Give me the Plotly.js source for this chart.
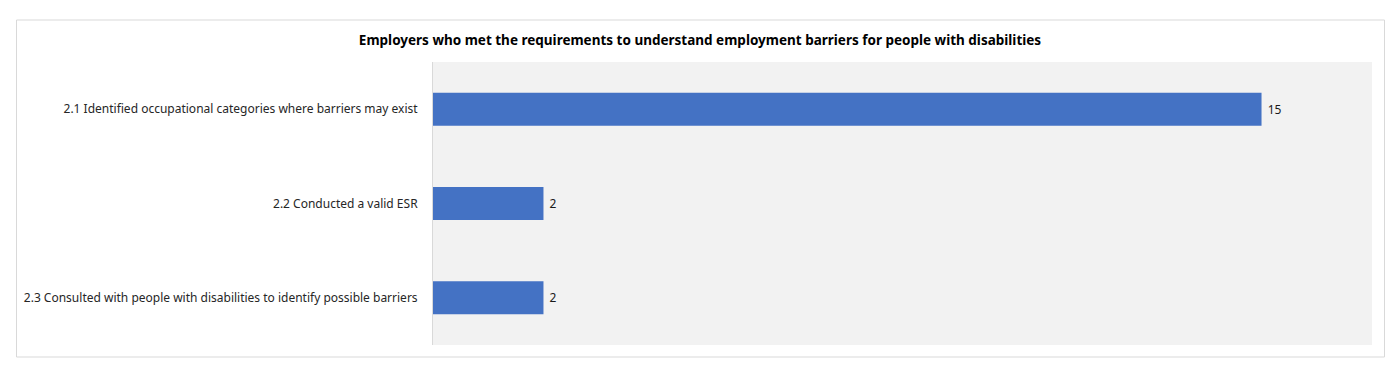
<!DOCTYPE html>
<html>
<head>
<meta charset="utf-8">
<script src="https://cdn.plot.ly/plotly-3.0.1.min.js"></script>
<style>html,body{margin:0;padding:0;background:#fff;}#chart{width:1400px;height:378px;}</style>
</head>
<body>
<div id="chart"></div>
<script>
const categories = [
  "2.1 Identified occupational categories where barriers may exist",
  "2.2 Conducted a valid ESR",
  "2.3 Consulted with people with disabilities to identify possible barriers"
];
const values = [15, 2, 2];
const chartTitle = "Employers who met the requirements to understand employment barriers for people with disabilities";

const W = 1400, H = 378;
const m = {l: 433, r: 28, t: 62, b: 33};
const pw = W - m.l - m.r, ph = H - m.t - m.b;
const px = x => (x - m.l) / pw;
const py = y => (H - m.b - y) / ph;

const trace = {
  type: 'bar',
  orientation: 'h',
  x: values,
  y: categories,
  text: values.map(v => ' ' + v),
  textposition: 'outside',
  cliponaxis: false,
  textfont: {family: 'Noto Sans, sans-serif', size: 12, color: '#1a1a1a'},
  marker: {color: '#4472C4'},
  width: 0.35,
  hoverinfo: 'none'
};

const layout = {
  width: W, height: H,
  margin: m,
  paper_bgcolor: '#ffffff',
  plot_bgcolor: '#f2f2f2',
  showlegend: false,
  font: {family: 'Noto Sans, sans-serif', size: 12, color: '#262626'},
  title: {
    text: '<b>' + chartTitle + '</b>',
    font: {family: 'Noto Sans, sans-serif', size: 13.5, color: '#000000'},
    x: 0.5, xref: 'container', xanchor: 'center',
    y: 1 - 40 / H, yref: 'container', yanchor: 'middle'
  },
  xaxis: {
    range: [0, 17],
    showgrid: false, zeroline: false, showticklabels: false, ticks: '', showline: false,
    fixedrange: true
  },
  yaxis: {
    type: 'category',
    autorange: 'reversed',
    showgrid: false, zeroline: false, ticks: '',
    showline: true, linecolor: '#d9d9d9', linewidth: 1,
    ticklabelstandoff: 12,
    tickfont: {family: 'Noto Sans, sans-serif', size: 12, color: '#262626'},
    automargin: false
  },
  shapes: [{
    type: 'rect', xref: 'paper', yref: 'paper',
    x0: px(16.5), x1: px(1384.5), y0: py(357), y1: py(20),
    line: {color: '#d9d9d9', width: 1}, fillcolor: 'rgba(0,0,0,0)', layer: 'below'
  }]
};

Plotly.newPlot('chart', [trace], layout, {displayModeBar: false, staticPlot: true});
</script>
</body>
</html>
